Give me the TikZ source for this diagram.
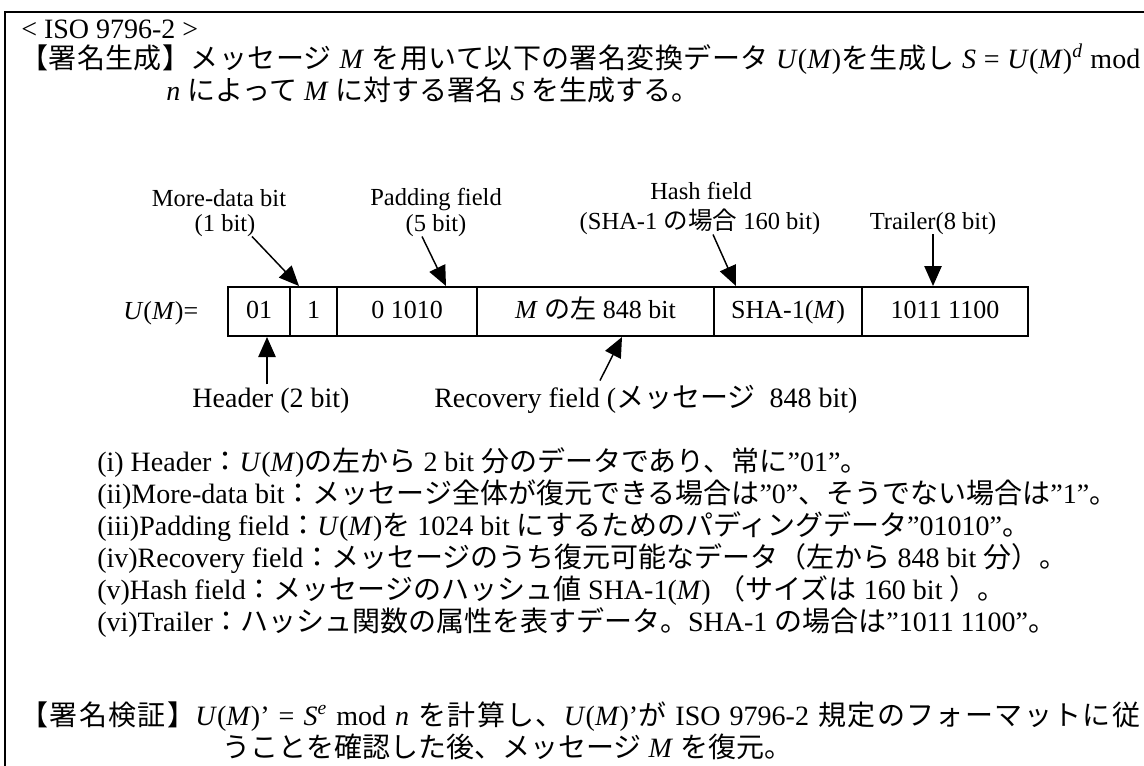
\documentclass[tikz,border=0pt]{standalone}
\usepackage{fontspec}
\setmainfont{Liberation Serif}
\newfontfamily\jp{Noto Sans CJK JP}
\newfontfamily\jpa[LetterSpace=1.5]{Noto Sans CJK JP}
\newfontfamily\jpb[LetterSpace=5]{Noto Sans CJK JP}
\newcommand\J[1]{{\jp #1}}
\newcommand\JA[1]{{\jpa #1}}
\newcommand\JB[1]{{\jpb #1}}
\newcommand\I[1]{\textit{#1}}
\usetikzlibrary{arrows.meta,calc}
\begin{document}
\begin{tikzpicture}[x=0.75pt,y=-0.75pt,
  body/.style={inner sep=0,anchor=base west,font=\fontsize{21pt}{24pt}\selectfont},
  lab/.style={inner sep=0,anchor=base,font=\fontsize{18.4pt}{21pt}\selectfont},
  blab/.style={inner sep=0,anchor=base,font=\fontsize{21pt}{24pt}\selectfont},
  cell/.style={draw,line width=1.5pt,minimum height=36.75pt,inner sep=0,text height=13.5pt,text depth=3pt,font=\fontsize{19.5pt}{22pt}\selectfont},
  arr/.style={line width=1.1pt,-{Triangle[length=15pt,width=13pt]}}]
\fill[white] (0,0) rectangle (1144,765);
\useasboundingbox (0,0) rectangle (1144,765);
\draw[line width=1.5pt] (5,800) -- (5,12) -- (1200,12);

\node[body] (t1) at (21,38) {< ISO 9796-2 >};
\node[body] (t2) at (20,68) {\makebox[840pt][s]{\JA{【署名生成】メッセージ} \I{M} \JA{を用いて以下の署名変換データ} \I{U}(\I{M})\JA{を生成し} \I{S} = \I{U}(\I{M})\textsuperscript{\I{d}} mod}};
\node[body] (t3) at (166,100) {\I{n} \J{によって} \I{M} \J{に対する署名} \I{S} \J{を生成する。}};

\node[lab] (md1) at (219,206) {More-data bit};
\node[lab] (md2) at (225,231) {(1 bit)};
\node[lab] (pad1) at (436,205) {Padding field};
\node[lab] (pad2) at (436,231) {(5 bit)};
\node[lab] (hs1) at (701,199) {Hash field};
\node[lab] (hs2) at (700,229) {(SHA-1 \J{の場合} 160 bit)};
\node[lab] (trl) at (933,229) {Trailer(8 bit)};

\node[body,font=\fontsize{19.5pt}{22pt}\selectfont] (um) at (123,319) {\I{U}(\I{M})=};
\node[cell,minimum width=46.5pt] (c1) at (259,311.5) {01};
\node[cell,minimum width=35.25pt] (c2) at (313.5,311.5) {1};
\node[cell,minimum width=105pt] (c3) at (407,311.5) {0 1010};
\node[cell,minimum width=177.75pt] (c4) at (595.5,311.5) {\I{M} \J{の左} 848 bit};
\node[cell,minimum width=111pt] (c5) at (788,311.5) {SHA-1(\I{M})};
\node[cell,minimum width=124.5pt] (c6) at (945,311.5) {1011 1100};

\node[blab] (hdr) at (271,407) {Header (2 bit)};
\node[blab,anchor=base west] (rec) at (434,407) {Recovery field (\J{メッセージ}\ \ 848 bit)};

\coordinate (hdrt) at ($(hdr.north)+(-4,-3)$);
\coordinate (rect) at ($(rec.north west)+(166,-4)$);
\draw[arr] ($(md2.south)+(27,0)$) -- ($(c2.north west)+(10,0)$);
\draw[arr] ($(pad2.south)+(-14,0)$) -- ($(c3.north west)+(110,0)$);
\draw[arr] ($(hs2.south)+(13,0)$) -- ($(c5.north west)+(23,0)$);
\draw[arr] (trl.south) -- (trl.south |- c6.north);
\draw[arr] (hdrt) -- (hdrt |- c1.south);
\draw[arr] (rect) -- ($(c4.south west)+(146,0)$);

\node[body] (l1) at (97,471) {(i) Header\J{：}\I{U}(\I{M})\J{の左から} 2 bit \J{分のデータであり、常に}”01”\J{。}};
\node[body] (l2) at (97,503) {(ii)More-data bit\J{：メッセージ全体が復元できる場合は}”0”\J{、そうでない場合は}”1”\J{。}};
\node[body] (l3) at (97,535) {(iii)Padding field\J{：}\I{U}(\I{M})\J{を} 1024 bit \J{にするためのパディングデータ}”01010”\J{。}};
\node[body] (l4) at (97,567) {(iv)Recovery field\J{：メッセージのうち復元可能なデータ（左から} 848 bit \J{分）。}};
\node[body] (l5) at (97,599) {(v)Hash field\J{：メッセージのハッシュ値} SHA-1(\I{M}) \J{（サイズは} 160 bit \J{）。}};
\node[body] (l6) at (97,631) {(vi)Trailer\J{：ハッシュ関数の属性を表すデータ。}SHA-1 \J{の場合は}”1011 1100”\J{。}};

\node[body] (v1) at (20,725) {\makebox[840pt][s]{\JB{【署名検証】}\I{U}(\I{M})’ = \I{S}\textsuperscript{\I{e}} mod \I{n} \JB{を計算し、}\I{U}(\I{M})’\JB{が} ISO 9796-2 \JB{規定のフォーマットに従}}};
\node[body] (v2) at (222,757) {\J{うことを確認した後、メッセージ} \I{M} \J{を復元。}};
\end{tikzpicture}
\end{document}
